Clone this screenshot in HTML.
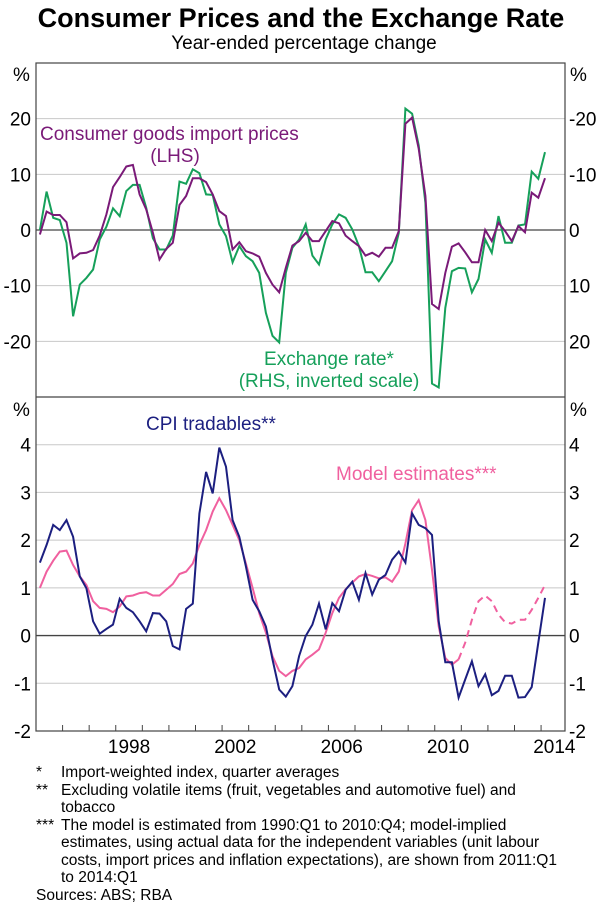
<!DOCTYPE html>
<html><head><meta charset="utf-8"><style>
body{margin:0;background:#fff;font-family:"Liberation Sans",sans-serif;}
#wrap{position:relative;width:600px;height:904px;overflow:hidden;}
.fn{position:absolute;font-size:15.5px;color:#000;line-height:17.5px;}
</style></head><body>
<div id="wrap">
<svg id="chart" width="600" height="904" style="position:absolute;left:0;top:0;font-family:'Liberation Sans',sans-serif;"></svg>
<div class="fn" style="left:36px;top:764px;">*</div>
<div class="fn" style="left:61px;top:764px;">Import-weighted index, quarter averages</div>
<div class="fn" style="left:36px;top:781.5px;">**</div>
<div class="fn" style="left:61px;top:781.5px;width:506px;">Excluding volatile items (fruit, vegetables and automotive fuel) and tobacco</div>
<div class="fn" style="left:36px;top:816.5px;">***</div>
<div class="fn" style="left:61px;top:816.5px;width:506px;">The model is estimated from 1990:Q1 to 2010:Q4; model-implied estimates, using actual data for the independent variables (unit labour costs, import prices and inflation expectations), are shown from 2011:Q1 to 2014:Q1</div>
<div class="fn" style="left:36px;top:886.5px;">Sources: ABS; RBA</div>
</div>
<script>
const importPrices=[-0.8,3.3,2.7,2.7,1.4,-5.1,-4.2,-4.1,-3.6,-1,2.8,7.7,9.5,11.4,11.7,6.4,3.7,-0.5,-5.3,-3.4,-2.3,4.5,6.1,9.3,9.3,8.6,6.4,3.4,2.5,-3.5,-2.2,-3.8,-4.2,-4.8,-7.7,-9.8,-11.2,-6.8,-2.8,-2,-0.5,-2,-2,-0.2,1.6,1.2,-1,-2,-2.9,-4.6,-4.1,-4.8,-3.2,-3.2,-0.2,19.1,20.2,14.6,6.1,-13.3,-14.2,-7.7,-3,-2.4,-4,-5.8,-5.8,0,-2,1.3,-0.2,-2,0.7,-0.4,6.7,5.8,9.3];
const exchangeRate=[0,-6.9,-2.2,-1.8,2.3,15.5,9.8,8.6,7.1,1.7,-0.6,-3.9,-2.5,-7,-8.1,-8.1,-4,1.5,3.5,3.5,1,-8.7,-8.3,-10.9,-10.2,-6.4,-6.3,-1,1.1,5.8,2.9,4.7,5.6,7.7,14.9,19,20.2,7.7,3.2,1.7,-1,4.6,6.2,1.7,-1,-2.8,-2.2,-0.1,2.9,7.6,7.6,9.2,7.4,5.6,0.5,-21.8,-20.9,-15.2,-4.9,27.6,28.3,14,7.4,6.8,6.9,11.2,8.8,1.7,4.1,-2.5,2.3,2.3,-0.8,-1,-10.5,-9.2,-14];
const cpiTradables=[1.53,1.9,2.32,2.21,2.42,2.07,1.24,0.99,0.3,0.04,0.14,0.23,0.77,0.58,0.49,0.3,0.09,0.47,0.46,0.3,-0.22,-0.29,0.56,0.67,2.56,3.43,2.98,3.94,3.54,2.42,2.07,1.45,0.75,0.51,0.19,-0.5,-1.13,-1.28,-1.06,-0.43,-0.01,0.23,0.67,0.13,0.68,0.51,0.96,1.13,0.75,1.31,0.86,1.17,1.27,1.59,1.76,1.53,2.56,2.32,2.25,2.11,0.3,-0.56,-0.56,-1.3,-0.92,-0.54,-1.06,-0.81,-1.25,-1.16,-0.84,-0.84,-1.3,-1.29,-1.08,-0.15,0.79];
const modelEstimates=[1.0,1.34,1.57,1.76,1.78,1.48,1.24,1.06,0.72,0.58,0.56,0.49,0.61,0.82,0.84,0.89,0.91,0.84,0.84,0.96,1.08,1.29,1.34,1.51,1.9,2.21,2.6,2.88,2.63,2.32,2.0,1.51,1.0,0.47,0.06,-0.43,-0.74,-0.85,-0.74,-0.68,-0.5,-0.4,-0.29,0.06,0.47,0.79,0.97,1.11,1.24,1.29,1.25,1.2,1.22,1.13,1.34,1.93,2.63,2.84,2.42,1.38,0.19,-0.47,-0.61,-0.5,-0.15,0.33,0.72,0.84,0.72,0.44,0.28,0.25,0.33,0.33,0.54,0.79,1.06];
const dashStartIndex=63;
const startYear=1995;
const yearLabels=[1998,2002,2006,2010,2014];
const topLeftTicks=[20,10,0,-10,-20];
const bottomTicks=[4,3,2,1,0,-1,-2];

const svg=document.getElementById('chart');
const NS='http://www.w3.org/2000/svg';
const L=36,R=565,T1=63,B1=397,B2=731;
const FS='19';
function x(t){return L+(t-1995)*(R-L)/19.9;}
function xi(i){return x(startYear+i/4+0.147);}
function y1(v){return B1-(v+30)*(B1-T1)/60;}
function y2(v){return B2-(v+2)*(B2-B1)/7;}
function mk(tag,attrs,text){const e=document.createElementNS(NS,tag);for(const k in attrs)e.setAttribute(k,attrs[k]);if(text!==undefined)e.textContent=text;svg.appendChild(e);return e;}

let e=mk('text',{x:301,y:27,'text-anchor':'middle','font-size':'27','font-weight':'bold'},'Consumer Prices and the Exchange Rate');


e=mk('text',{x:304,y:49,'text-anchor':'middle','font-size':'19'},'Year-ended percentage change');



topLeftTicks.forEach(v=>{
  const g=mk('line',{x1:L,x2:R,y1:y1(v),y2:y1(v),stroke:v===0?'#444':'#c8c8c8','stroke-width':v===0?1.3:1});
  
  
  let t=mk('text',{x:31,y:y1(v)+7,'text-anchor':'end','font-size':FS},String(v));
  
  
  t=mk('text',{x:569,y:y1(v)+7,'text-anchor':'start','font-size':FS},String(-v));
  
  
});
bottomTicks.forEach(v=>{
  if(v!==-2){
  const g=mk('line',{x1:L,x2:R,y1:y2(v),y2:y2(v),stroke:v===0?'#444':'#c8c8c8','stroke-width':v===0?1.3:1});
  
  }
  let t=mk('text',{x:31,y:y2(v)+7,'text-anchor':'end','font-size':FS},String(v));
  
  
  t=mk('text',{x:569,y:y2(v)+7,'text-anchor':'start','font-size':FS},String(v));
  
  
});
[[13,81],[570,81],[13,416],[570,416]].forEach(p=>{
  const t=mk('text',{x:p[0],y:p[1],'font-size':FS},'%');
  
  
});
e=mk('rect',{x:L,y:T1,width:R-L,height:B2-T1,fill:'none',stroke:'#444','stroke-width':1.2});


e=mk('line',{x1:L,x2:R,y1:B1,y2:B1,stroke:'#444','stroke-width':1.2});


for(let yr=1996;yr<=2014;yr++){
  const t=mk('line',{x1:x(yr),x2:x(yr),y1:B2,y2:B2-6,stroke:'#444'});
  
  
}
yearLabels.forEach(yr=>{
  const t=mk('text',{x:x(yr+0.5),y:753,'text-anchor':'middle','font-size':FS},String(yr));
  
  
});

function path(arr,yf,from,to){let d='';for(let i=from;i<=to;i++){d+=(i===from?'M':'L')+xi(i).toFixed(1)+','+yf(arr[i]).toFixed(1);}return d;}
e=mk('path',{d:path(exchangeRate.map(v=>-v),y1,0,exchangeRate.length-1),fill:'none',stroke:'#16a05a','stroke-width':2});


e=mk('path',{d:path(importPrices,y1,0,importPrices.length-1),fill:'none',stroke:'#7a1a78','stroke-width':2});


e=mk('path',{d:path(modelEstimates,y2,0,dashStartIndex),fill:'none',stroke:'#f0609f','stroke-width':2});


e=mk('path',{d:path(modelEstimates,y2,dashStartIndex,modelEstimates.length-1),fill:'none',stroke:'#f0609f','stroke-width':2,'stroke-dasharray':'7,5'});


e=mk('path',{d:path(cpiTradables,y2,0,cpiTradables.length-1),fill:'none',stroke:'#1c1f80','stroke-width':2});



e=mk('text',{x:40,y:140,'font-size':FS,fill:'#7a1a78'},'Consumer goods import prices');


e=mk('text',{x:175,y:162,'text-anchor':'middle','font-size':FS,fill:'#7a1a78'},'(LHS)');


e=mk('text',{x:329,y:365,'text-anchor':'middle','font-size':FS,fill:'#16a05a'},'Exchange rate*');


e=mk('text',{x:329,y:387,'text-anchor':'middle','font-size':FS,fill:'#16a05a'},'(RHS, inverted scale)');


e=mk('text',{x:146,y:430,'font-size':FS,fill:'#1c1f80'},'CPI tradables**');


e=mk('text',{x:336,y:480,'font-size':FS,fill:'#f0609f'},'Model estimates***');


</script>
</body></html>
